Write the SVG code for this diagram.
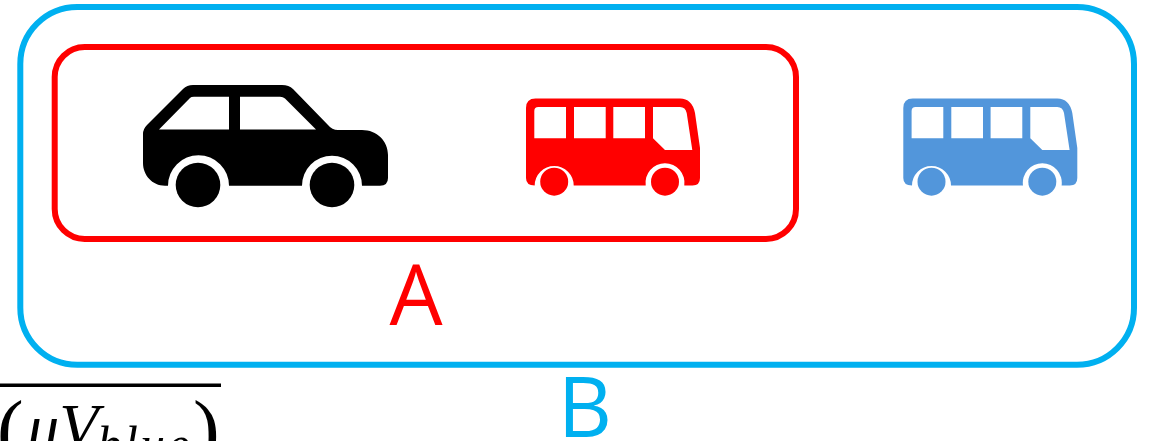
<svg xmlns="http://www.w3.org/2000/svg" xmlns:xlink="http://www.w3.org/1999/xlink" width="1155" height="441" viewBox="0 0 1155 441">
<style>
.frame{fill:none;stroke-width:6}
.label{font-family:"Open Sans","Noto Sans",sans-serif;font-size:84px;text-anchor:middle}
.math{font-family:"Liberation Serif",serif;fill:#000}
</style>
<defs>
<path id="bus" fill-rule="evenodd" d="M526 108Q526 98.500 535.500 98.500L680 98.500Q692 98.500 695 113L700 148L700 178Q700 185.500 692.500 185.500L684.300 185.500A19.500 19.500 0 1 0 645.700 185.500L573.700 185.500A19.500 19.500 0 1 0 534.700 185.500Q526 185.500 526 178ZM534.300 111Q534.300 107 538.300 107L566 107L566 138.300L534.300 138.300ZM574 107L605.700 107L605.700 138.300L574 138.300ZM613.300 107L645 107L645 138.300L613.300 138.300ZM653 107L680 107Q685.500 107 686.700 113L692.300 150L665 150L653 138.300Z"/>
</defs>
<rect width="1155" height="441" fill="#fff"/>
<g id="group-b">
<rect class="frame" x="20.300" y="7" width="1113.700" height="357.700" rx="57" stroke="#00b0f0"/>
<text class="label" x="585" y="437" fill="#00b0f0">B</text>
</g>
<g id="group-a">
<rect class="frame" x="54.700" y="47" width="741.300" height="192" rx="30" stroke="#f00"/>
<text class="label" x="416" y="325" fill="#f00">A</text>
</g>
<g id="car">
<path fill="#000" fill-rule="evenodd" d="M143 134Q143 129 147 125L183 89Q187 85 193 85L282 85Q289 85 293 89L328 125Q332 130 338 130L362 130C377 130 388 141 388 155L388 178Q388 185.700 380 185.700L362 185.700A30 30 0 0 0 302 185.700L229 185.700A30.500 30.500 0 0 0 168 185.700L165 185.700C152 185.700 143 175 143 163ZM159 129.500L190 98Q191 96.700 194 96.700L229 96.700L229 129.500ZM240 96.700L280 96.700Q283 96.700 285 98.500L316 129.500L240 129.500Z"/>
<circle cx="198" cy="185" r="22.300"/>
<circle cx="332" cy="185" r="22.300"/>
</g>
<g id="bus-red" fill="#f00">
<use href="#bus" xlink:href="#bus"/>
<circle cx="554.200" cy="181.700" r="14"/>
<circle cx="665" cy="181.700" r="14"/>
</g>
<g id="bus-blue" fill="#5296db" transform="translate(377.300 0)">
<use href="#bus" xlink:href="#bus"/>
<circle cx="554.200" cy="181.700" r="14"/>
<circle cx="665" cy="181.700" r="14"/>
</g>
<g id="formula">
<rect x="0" y="383.500" width="221" height="3.500" fill="#000"/>
<text class="math" x="-3" y="456" font-size="80">(</text>
<text class="math" x="27" y="448" font-size="64" font-style="italic">μV</text>
<text class="math" x="97" y="461" font-size="50" letter-spacing="2" font-style="italic">blue</text>
<text class="math" x="193" y="456" font-size="80">)</text>
</g>
</svg>
